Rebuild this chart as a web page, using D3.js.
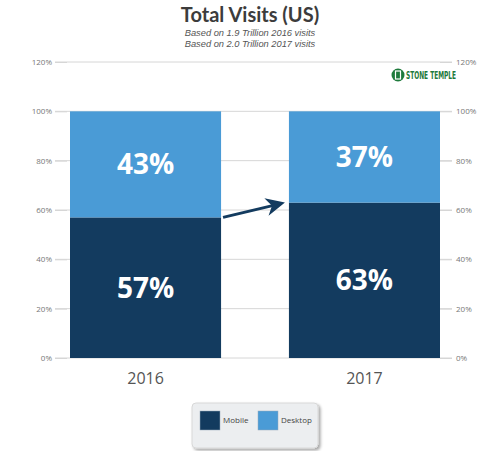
<!DOCTYPE html>
<html><head><meta charset="utf-8">
<script src="https://cdn.jsdelivr.net/npm/d3@7"></script>
<style>body{margin:0;background:#fff}svg{display:block}text{font-family:"Open Sans",sans-serif}</style>
</head><body>
<script>
const categories = ["2016", "2017"];
const mobile = [57, 63];
const desktop = [43, 37];
const seriesNames = ["Mobile", "Desktop"];
const tickValues = [0, 20, 40, 60, 80, 100, 120];
const title = "Total Visits (US)";
const subtitles = ["Based on 1.9 Trillion 2016 visits", "Based on 2.0 Trillion 2017 visits"];
const colors = ["#133b5f", "#4a9bd6"];

const W = 500, H = 451;
const svg = d3.select("body").append("svg").attr("width", W).attr("height", H);

const y = d3.scaleLinear().domain([0, 120]).range([358, 62]);
const x = d3.scaleBand().domain(categories).range([70, 440]).paddingInner(0.31).paddingOuter(0);
const gridL = 55, gridR = 452;

// gridlines
svg.append("g").selectAll("line").data(tickValues).join("line")
  .attr("x1", gridL).attr("x2", gridR)
  .attr("y1", d => y(d)).attr("y2", d => y(d))
  .attr("stroke", "#d6d6d6").attr("stroke-width", 1);

// axes
const fmt = d => d + "%";
const la = svg.append("g").attr("transform", `translate(${gridL + 12},0)`)
  .call(d3.axisLeft(y).tickValues(tickValues).tickFormat(fmt).tickSize(12).tickPadding(3));
const ra = svg.append("g").attr("transform", `translate(${gridR - 12},0)`)
  .call(d3.axisRight(y).tickValues(tickValues).tickFormat(fmt).tickSize(12).tickPadding(4));
[la, ra].forEach(g => {
  g.select(".domain").remove();
  g.selectAll("line").attr("stroke", "#d6d6d6");
  g.selectAll("text").attr("fill", "#777").style("font-size", "8px");
});

// stacked bars
const rows = categories.map((c, i) => ({cat: c, Mobile: mobile[i], Desktop: desktop[i]}));
const stack = d3.stack().keys(seriesNames)(rows);
const g = svg.append("g");
stack.forEach((s, si) => {
  g.selectAll(null).data(s).join("rect")
    .attr("x", d => x(d.data.cat)).attr("width", x.bandwidth())
    .attr("y", d => y(d[1])).attr("height", d => y(d[0]) - y(d[1]))
    .attr("fill", colors[si]);
  g.selectAll(null).data(s).join("text")
    .attr("x", d => x(d.data.cat) + x.bandwidth() / 2)
    .attr("y", d => (y(d[0]) + y(d[1])) / 2 + 10)
    .attr("text-anchor", "middle").attr("fill", "#fff")
    .style("font-size", "28px").style("font-weight", "700")
    .text(d => (d[1] - d[0]) + "%");
});

// x labels
svg.append("g").selectAll("text").data(categories).join("text")
  .attr("x", d => x(d) + x.bandwidth() / 2).attr("y", 384)
  .attr("text-anchor", "middle").attr("fill", "#555")
  .style("font-size", "16px").text(d => d);

// arrow
const defs = svg.append("defs");
const x0 = x(categories[0]) + x.bandwidth() + 2, x1 = x(categories[1]) - 4;
svg.append("line").attr("x1", x0).attr("y1", y(mobile[0])).attr("x2", x1 - 4).attr("y2", y(mobile[1]) + 1)
  .attr("stroke", colors[0]).attr("stroke-width", 3);
svg.append("path")
  .attr("d", (() => {
    const ang = Math.atan2(y(mobile[1]) - y(mobile[0]), x1 - x0);
    const tipX = x1, tipY = y(mobile[1]);
    const L = 19, Wd = 9;
    const bx = tipX - L * Math.cos(ang), by = tipY - L * Math.sin(ang);
    const nx = -Math.sin(ang), ny = Math.cos(ang);
    const mx = tipX - L * 0.7 * Math.cos(ang), my = tipY - L * 0.7 * Math.sin(ang);
    return `M${tipX},${tipY} L${bx + nx * Wd},${by + ny * Wd} L${mx},${my} L${bx - nx * Wd},${by - ny * Wd} Z`;
  })())
  .attr("fill", colors[0]);

// title
svg.append("text").attr("x", 250).attr("y", 22).attr("text-anchor", "middle")
  .attr("fill", "#3c3c3c").style("font-family", "Lato, sans-serif")
  .style("font-size", "20px").style("font-weight", "700").text(title);
svg.selectAll(".sub").data(subtitles).join("text").attr("class", "sub")
  .attr("x", 250).attr("y", (d, i) => 35.5 + i * 11).attr("text-anchor", "middle")
  .attr("fill", "#555").style("font-family", "'Liberation Sans', sans-serif")
  .style("font-size", "9.3px").style("font-style", "italic").text(d => d);

// logo
const logo = svg.append("g");
logo.append("circle").attr("cx", 398).attr("cy", 75).attr("r", 6.5).attr("fill", "#1e7a3c");
logo.append("rect").attr("x", 395.5).attr("y", 71).attr("width", 5).attr("height", 8).attr("fill", "none").attr("stroke", "#fff").attr("stroke-width", 1.2);
logo.append("text").attr("x", 406).attr("y", 79).attr("fill", "#1e7a3c")
  .style("font-size", "10px").style("font-weight", "700").style("font-family", "'Liberation Sans Narrow','DejaVu Sans Condensed',sans-serif")
  .attr("textLength", 50).attr("lengthAdjust", "spacingAndGlyphs").text("STONE TEMPLE");

// legend
const lg = svg.append("g");
const sh = defs.append("filter").attr("id", "sh").attr("x", "-10%").attr("y", "-10%").attr("width", "130%").attr("height", "140%");
sh.append("feDropShadow").attr("dx", 2).attr("dy", 2).attr("stdDeviation", 1.5).attr("flood-color", "#000").attr("flood-opacity", 0.35);
lg.append("rect").attr("x", 192).attr("y", 403).attr("width", 126).attr("height", 45).attr("rx", 4)
  .attr("fill", "#eceef0").attr("stroke", "#d8d8d8").attr("filter", "url(#sh)");
const lx = [200, 258];
seriesNames.forEach((n, i) => {
  lg.append("rect").attr("x", lx[i]).attr("y", 411).attr("width", 20).attr("height", 19)
    .attr("fill", colors[i]).attr("stroke", "#9ab").attr("stroke-width", 0.5);
  lg.append("text").attr("x", lx[i] + 23).attr("y", 423).attr("fill", "#444")
    .style("font-size", "8px").text(n);
});
</script>
</body></html>
